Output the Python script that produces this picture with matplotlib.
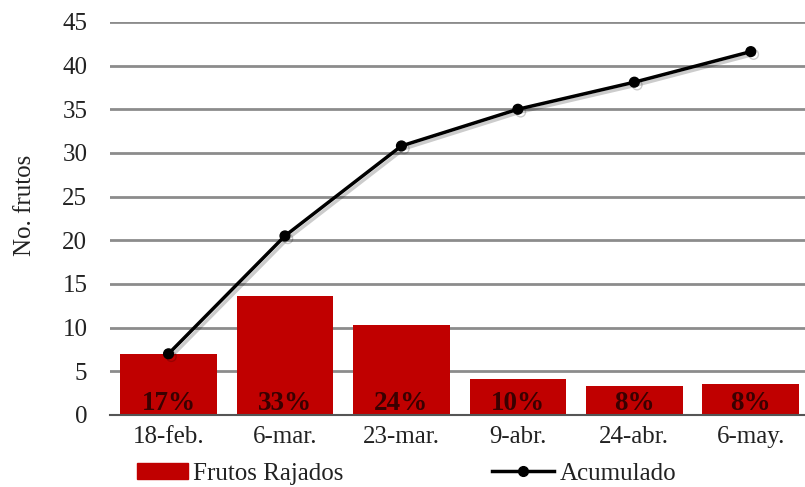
import matplotlib.pyplot as plt
import matplotlib.patheffects as pe
from matplotlib.patches import Patch
from matplotlib.lines import Line2D

# fechas de muestreo y frutos rajados por fecha
fechas = ["18-feb.", "6-mar.", "23-mar.", "9-abr.", "24-abr.", "6-may."]
rajados = [7.0, 13.6, 10.3, 4.1, 3.3, 3.55]
acumulado = [7.0, 20.5, 30.8, 35.0, 38.1, 41.6]
porcentajes = ["17%", "33%", "24%", "10%", "8%", "8%"]

plt.rcParams['font.family'] = ['Liberation Serif', 'DejaVu Serif']

fig = plt.figure(figsize=(8.05, 4.87), dpi=100)
ax = fig.add_axes([0.137, 0.148, 0.868, 0.807])

x = list(range(len(fechas)))
ax.bar(x, rajados, width=0.83, color="#C00000", zorder=2)
ax.plot(x, acumulado, color="black", lw=2.5, marker="o", ms=7, zorder=4,
        path_effects=[pe.SimpleLineShadow(offset=(2, -2), alpha=0.2), pe.Normal()])

# porcentaje de cada fecha dentro de la barra
for xi, p in zip(x, porcentajes):
    ax.text(xi, 1.35, p, ha="center", va="center", fontsize=19.5,
            fontweight="bold", color="#3a0000", zorder=3)

ax.set_xlim(-0.5, 5.5)
ax.set_ylim(0, 45)
ax.set_yticks(range(0, 46, 5))
ax.set_xticks(x)
ax.set_xticklabels(fechas)
ax.tick_params(axis="both", length=0, labelsize=18, colors="#222222")
ax.tick_params(axis="x", pad=8)
ax.tick_params(axis="y", pad=16.5)
ax.yaxis.grid(True, color="#8c8c8c", lw=2, zorder=0)
ax.set_axisbelow(True)
for s in ["top", "right", "left"]:
    ax.spines[s].set_visible(False)
ax.spines["bottom"].set_color("#555555")
ax.spines["bottom"].set_linewidth(1.5)
ax.set_ylabel("No. frutos", fontsize=18, color="#222222")
ax.yaxis.set_label_coords(-0.106, 0.534)

# leyenda en dos partes bajo el eje
fig.legend([Patch(color="#C00000")], ["Frutos Rajados"], frameon=False,
           loc="center left", bbox_to_anchor=(0.170, 0.027), borderpad=0,
           borderaxespad=0, fontsize=18, handlelength=2.05, handleheight=0.55,
           handletextpad=0.2, labelcolor="#222222")
fig.legend([Line2D([], [], color="black", lw=2.5, marker="o", ms=7)], ["Acumulado"],
           frameon=False, loc="center left", bbox_to_anchor=(0.611, 0.027),
           borderpad=0, borderaxespad=0, fontsize=18, handlelength=2.5,
           handletextpad=0.2, labelcolor="#222222")

fig.savefig("out.png", dpi=100)
